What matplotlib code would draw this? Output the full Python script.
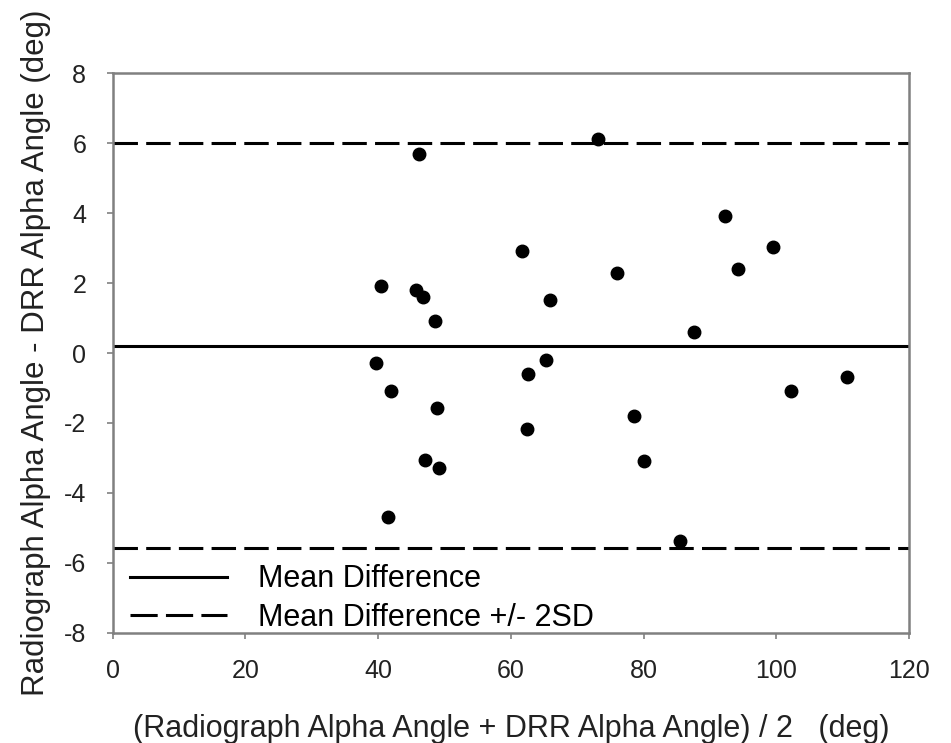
import matplotlib
matplotlib.use('Agg')
import matplotlib.pyplot as plt
from matplotlib.lines import Line2D
import numpy as np

plt.rcParams['font.family'] = ['Liberation Sans', 'DejaVu Sans']
plt.rcParams['axes.unicode_minus'] = False

# Trung bình hai phương pháp (deg) và hiệu số (deg)
mean_angle = [40.4, 45.7, 46.8, 48.5, 39.6, 41.9, 48.8, 47.0, 49.2, 41.4,
              46.2, 73.1, 61.6, 65.9, 65.3, 62.5, 62.4, 75.9, 92.2, 99.4,
              94.2, 87.5, 110.6, 102.2, 78.5, 80.0, 85.5]
diff_angle = [1.93, 1.80, 1.59, 0.91, -0.29, -1.09, -1.58, -3.07, -3.29, -4.69,
              5.70, 6.12, 2.93, 1.52, -0.19, -0.60, -2.17, 2.30, 3.92, 3.02,
              2.41, 0.61, -0.69, -1.09, -1.79, -3.09, -5.39]

mean_diff = 0.21
upper_loa = 6.0
lower_loa = -5.59

xticks = [0, 20, 40, 60, 80, 100, 120]
yticks = [-8, -6, -4, -2, 0, 2, 4, 6, 8]

fig = plt.figure(figsize=(9.51, 7.43), dpi=100)
ax = fig.add_axes([0.1185, 0.1484, 0.8376, 0.7529])

ax.plot(mean_angle, diff_angle, 'o', color='black', markersize=9, zorder=3)

ax.axhline(mean_diff, color='black', lw=2.2)
ax.axhline(upper_loa, color='black', lw=2.2, dashes=(8, 2.7))
ax.axhline(lower_loa, color='black', lw=2.2, dashes=(8, 2.7))

ax.set_xlim(0, 120)
ax.set_ylim(-8, 8)
ax.set_xticks(xticks)
ax.set_yticks(yticks)
ax.tick_params(direction='out', length=4, width=1.2, color='#808080',
               labelsize=18, labelcolor='#222222', pad=15)
for s in ax.spines.values():
    s.set_color('#808080')
    s.set_linewidth(1.8)

ax.set_xlabel('(Radiograph Alpha Angle + DRR Alpha Angle) / 2   (deg)',
              fontsize=22, color='#222222', labelpad=22)
ax.set_ylabel('Radiograph Alpha Angle - DRR Alpha Angle (deg)',
              fontsize=22.5, color='#222222', labelpad=9)

# Chú thích: 3 nét đứt trọn vẹn cho đường +/- 2SD
handles = [Line2D([], [], color='black', lw=2.2),
           Line2D([], [], color='black', lw=2.2, dashes=(8.9, 2.7))]
labels = ['Mean Difference', 'Mean Difference +/- 2SD']
ax.legend(handles, labels, loc='lower left', bbox_to_anchor=(0.006, -0.022),
          frameon=False, fontsize=22, handlelength=3.2, borderaxespad=0.1,
          borderpad=0.3, labelspacing=0.28, handletextpad=1.0)

plt.savefig('out.png', dpi=100)
plt.close()
